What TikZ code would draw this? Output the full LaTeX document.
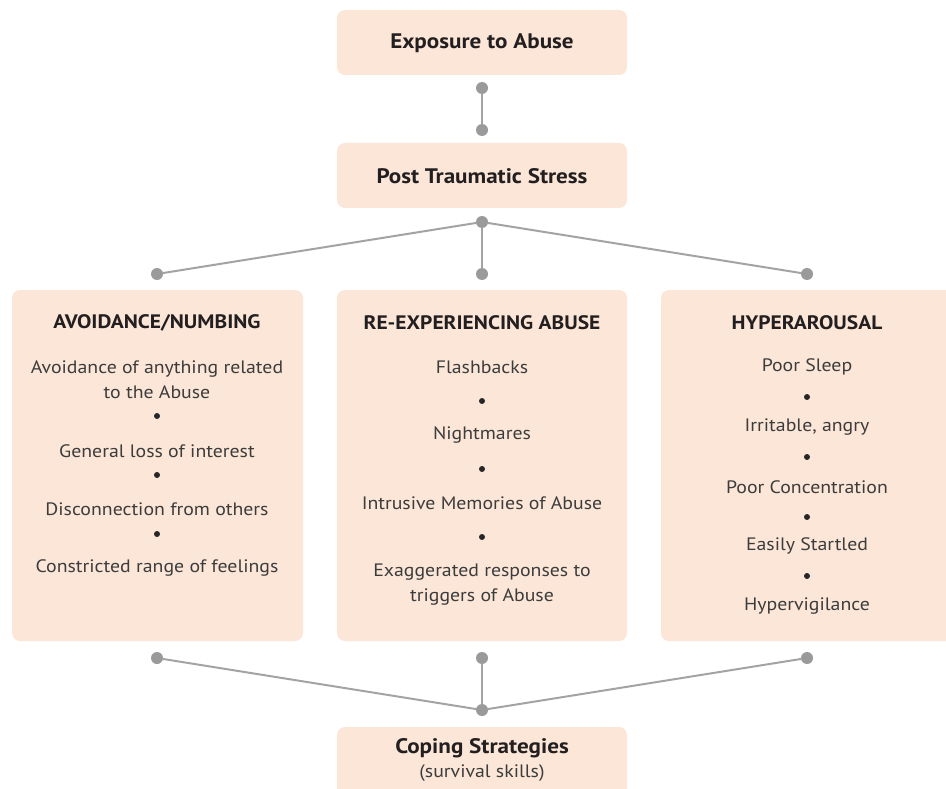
\documentclass[tikz,border=0pt]{standalone}
\usepackage{fontspec}
\setmainfont{PT Sans}[FakeStretch=1.1]
\definecolor{boxfill}{HTML}{FBE6D8}
\definecolor{linegray}{HTML}{A3A3A3}
\definecolor{dotgray}{HTML}{9A9A9A}
\definecolor{headtxt}{HTML}{231F20}
\definecolor{itemtxt}{HTML}{3C3C3C}
\tikzset{
  x=1pt,y=-1pt,
  panel/.style={fill=boxfill,draw=none,rounded corners=8pt},
  head/.style={inner sep=0pt,text=headtxt,font=\fontsize{19.5}{22}\selectfont\bfseries},
  title/.style={inner sep=0pt,text=headtxt,font=\fontsize{21}{24}\selectfont\bfseries},
  item/.style={inner sep=0pt,text=itemtxt,font=\fontsize{18}{25}\selectfont,align=center},
  bul/.style={circle,fill=black!85,inner sep=0pt,minimum size=6pt},
  conn/.style={draw=linegray,line width=2pt},
  dot/.style={circle,fill=dotgray,inner sep=0pt,minimum size=12pt}
}
\begin{document}
\begin{tikzpicture}
\useasboundingbox (0,0) rectangle (946,789);
\begin{scope}
\clip (0,0) rectangle (946,789);
% boxes
\fill[panel] (337,10) rectangle (627,75);
\fill[panel] (337,143) rectangle (627,208);
\fill[panel] (12,290) rectangle (303,641);
\fill[panel] (337,290) rectangle (627,641);
\fill[panel] (661,290) rectangle (955,641);
\fill[panel] (337,727) rectangle (627,800);
\end{scope}
% titles
\node[title] (exp) at (482,43) {Exposure to Abuse};
\node[title] (pts) at (482,176) {Post Traumatic Stress};
\node[title] (cop) at (482,748) {Coping Strategies};
\node[item] (surv) at (482,773) {(survival skills)};
% dots
\node[dot] (d1) at (482,88) {};
\node[dot] (d2) at (482,130) {};
\node[dot] (j1) at (482,222) {};
\node[dot] (tL) at (157,274) {};
\node[dot] (tM) at (482,274) {};
\node[dot] (tR) at (807,274) {};
\node[dot] (bL) at (157,658) {};
\node[dot] (bM) at (482,658) {};
\node[dot] (bR) at (807,658) {};
\node[dot] (j2) at (482,710) {};
\draw[conn] (d1.center) -- (d2.center);
\draw[conn] (j1.center) -- (tL.center);
\draw[conn] (j1.center) -- (tM.center);
\draw[conn] (j1.center) -- (tR.center);
\draw[conn] (bL.center) -- (j2.center);
\draw[conn] (bM.center) -- (j2.center);
\draw[conn] (bR.center) -- (j2.center);
\foreach \n in {d1,d2,j1,tL,tM,tR,bL,bM,bR,j2} \fill[dotgray] (\n.center) circle (5.5pt);
% left column
\node[head] (hL) at (157,323) {AVOIDANCE/NUMBING};
\node[item] (l1) at (157,380) {Avoidance of anything related\\to the Abuse};
\node[bul] (lb1) at (157,416) {};
\node[item] (l2) at (157,451) {General loss of interest};
\node[bul] (lb2) at (157,475) {};
\node[item] (l3) at (157,509) {Disconnection from others};
\node[bul] (lb3) at (157,534) {};
\node[item] (l4) at (157,568) {Constricted range of feelings};
% middle column
\node[head] (hM) at (482,323) {RE-EXPERIENCING ABUSE};
\node[item] (m1) at (482,367) {Flashbacks};
\node[bul] (mb1) at (482,401) {};
\node[item] (m2) at (482,435) {Nightmares};
\node[bul] (mb2) at (482,469) {};
\node[item] (m3) at (482,503) {Intrusive Memories of Abuse};
\node[bul] (mb3) at (482,537) {};
\node[item] (m4) at (482,584.5) {Exaggerated responses to\\triggers of Abuse};
% right column
\node[head] (hR) at (807,323) {HYPERAROUSAL};
\node[item] (r1) at (807,367) {Poor Sleep};
\node[bul] (rb1) at (807,397) {};
\node[item] (r2) at (807,427) {Irritable, angry};
\node[bul] (rb2) at (807,457) {};
\node[item] (r3) at (807,487) {Poor Concentration};
\node[bul] (rb3) at (807,517) {};
\node[item] (r4) at (807,546) {Easily Startled};
\node[bul] (rb4) at (807,576) {};
\node[item] (r5) at (807,606) {Hypervigilance};
\end{tikzpicture}
\end{document}
